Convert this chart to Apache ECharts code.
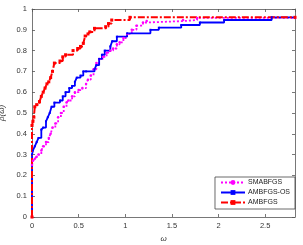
<!DOCTYPE html>
<html><head><meta charset="utf-8">
<script src="https://cdn.jsdelivr.net/npm/echarts@6/dist/echarts.min.js"></script>
<style>html,body{margin:0;padding:0;background:#fff}#c{width:303px;height:245px}</style>
</head><body><div id="c"></div>
<script>
const seriesNames = ['SMABFGS', 'AMBFGS-OS', 'AMBFGS'];
const xTicks = [0, 0.5, 1, 1.5, 2, 2.5];
const smaX = [0, 0, 0.01, 0.03, 0.05, 0.07, 0.1, 0.12, 0.15, 0.18, 0.2, 0.22, 0.25, 0.28, 0.31, 0.34, 0.37, 0.39, 0.43, 0.46, 0.5, 0.54, 0.58, 0.6, 0.63, 0.66, 0.69, 0.72, 0.76, 0.8, 0.84, 0.87, 0.91, 0.94, 0.98, 1.02, 1.07, 1.12, 1.19, 1.23, 1.62, 1.77, 2.82];
const smaY = [0, 0.25, 0.27, 0.28, 0.29, 0.3, 0.32, 0.34, 0.36, 0.38, 0.40, 0.43, 0.45, 0.48, 0.5, 0.53, 0.55, 0.56, 0.58, 0.6, 0.61, 0.62, 0.64, 0.66, 0.68, 0.71, 0.74, 0.76, 0.77, 0.79, 0.8, 0.81, 0.83, 0.84, 0.86, 0.88, 0.9, 0.92, 0.935, 0.942, 0.947, 0.957, 0.957];
const osX = [0, 0, 0.01, 0.03, 0.05, 0.07, 0.1, 0.12, 0.15, 0.17, 0.19, 0.21, 0.24, 0.3, 0.33, 0.36, 0.4, 0.43, 0.46, 0.48, 0.52, 0.55, 0.58, 0.67, 0.69, 0.72, 0.75, 0.78, 0.84, 0.86, 0.91, 1.02, 1.27, 1.36, 1.6, 1.8, 2.06, 2.57, 2.82];
const osY = [0, 0.3, 0.32, 0.34, 0.36, 0.38, 0.42, 0.43, 0.46, 0.48, 0.5, 0.53, 0.55, 0.56, 0.58, 0.6, 0.62, 0.63, 0.65, 0.67, 0.68, 0.7, 0.7, 0.71, 0.73, 0.76, 0.78, 0.8, 0.82, 0.845, 0.867, 0.883, 0.9, 0.91, 0.923, 0.935, 0.947, 0.96, 0.96];
const ambX = [0, 0, 0.01, 0.02, 0.03, 0.05, 0.08, 0.1, 0.12, 0.14, 0.16, 0.18, 0.2, 0.22, 0.24, 0.3, 0.33, 0.36, 0.44, 0.49, 0.52, 0.55, 0.57, 0.6, 0.62, 0.67, 0.79, 0.82, 0.855, 1.05, 2.82];
const ambY = [0, 0.44, 0.46, 0.48, 0.53, 0.54, 0.555, 0.58, 0.6, 0.62, 0.64, 0.65, 0.67, 0.7, 0.74, 0.75, 0.77, 0.78, 0.8, 0.81, 0.82, 0.835, 0.87, 0.88, 0.89, 0.907, 0.915, 0.93, 0.947, 0.96, 0.96];

const pairs = (xs, ys) => xs.map((x, i) => [x, ys[i]]);
const font = 'Liberation Sans, Arial, sans-serif';
const axisCol = '#555';
const tickLabel = {fontSize: 7.5, color: '#333', fontFamily: font};
const chart = echarts.init(document.getElementById('c'), null, {renderer: 'canvas'});
const xAxisBase = {
  type: 'value', min: 0, max: 2.82, interval: 0.5,
  axisLine: {show: true, onZero: false, lineStyle: {color: axisCol, width: 0.8}},
  axisTick: {show: true, inside: true, length: 3, lineStyle: {color: axisCol, width: 0.8}},
  splitLine: {show: false}
};
const yAxisBase = {
  type: 'value', min: 0, max: 1, interval: 0.1,
  axisLine: {show: true, onZero: false, lineStyle: {color: axisCol, width: 0.8}},
  axisTick: {show: true, inside: true, length: 3, lineStyle: {color: axisCol, width: 0.8}},
  splitLine: {show: false}
};
chart.setOption({
  animation: false,
  backgroundColor: '#fff',
  grid: {left: 32, right: 8, top: 9, bottom: 28, containLabel: false, outerBoundsMode: 'none'},
  legend: {
    data: seriesNames, orient: 'vertical', right: 8, top: 177,
    backgroundColor: '#fff', borderColor: '#444', borderWidth: 0.8, borderRadius: 0,
    padding: [2, 5, 3, 5], itemGap: 3, itemWidth: 24, itemHeight: 6,
    textStyle: {fontSize: 7, color: '#222', fontFamily: font, padding: [0, 0, 0, -2]}
  },
  xAxis: [
    Object.assign({}, xAxisBase, {
      position: 'bottom',
      name: 'ω', nameLocation: 'middle', nameGap: 17,
      nameTextStyle: {fontSize: 8, fontStyle: 'italic', color: '#333', fontFamily: font},
      axisLabel: Object.assign({}, tickLabel, {margin: 5, showMaxLabel: false,
        formatter: v => xTicks.indexOf(v) >= 0 ? String(v) : ''})
    }),
    Object.assign({}, xAxisBase, {position: 'top', axisLabel: {show: false}})
  ],
  yAxis: [
    Object.assign({}, yAxisBase, {
      position: 'left',
      name: 'ρ(ω)', nameLocation: 'middle', nameGap: 22, nameRotate: 90,
      nameTextStyle: {fontSize: 8, fontStyle: 'italic', color: '#333', fontFamily: font},
      axisLabel: Object.assign({}, tickLabel, {margin: 5})
    }),
    Object.assign({}, yAxisBase, {position: 'right', axisLabel: {show: false}})
  ],
  series: [
    {name: seriesNames[0], type: 'line', step: 'end', data: pairs(smaX, smaY),
     color: '#ff00ff', lineStyle: {width: 1.8, type: [2, 2]},
     symbol: 'circle', symbolSize: 2.5, showSymbol: true,
     itemStyle: {color: '#ff00ff'}},
    {name: seriesNames[1], type: 'line', step: 'end', data: pairs(osX, osY),
     color: '#0000ff', lineStyle: {width: 1.8, type: 'solid'},
     symbol: 'rect', symbolSize: 2, showSymbol: true,
     itemStyle: {color: '#0000ff'}},
    {name: seriesNames[2], type: 'line', step: 'end', data: pairs(ambX, ambY),
     color: '#ff0000', lineStyle: {width: 2, type: [7, 2, 2, 2]},
     symbol: 'rect', symbolSize: 3, showSymbol: true,
     itemStyle: {color: '#ff0000'}}
  ]
});
</script></body></html>
